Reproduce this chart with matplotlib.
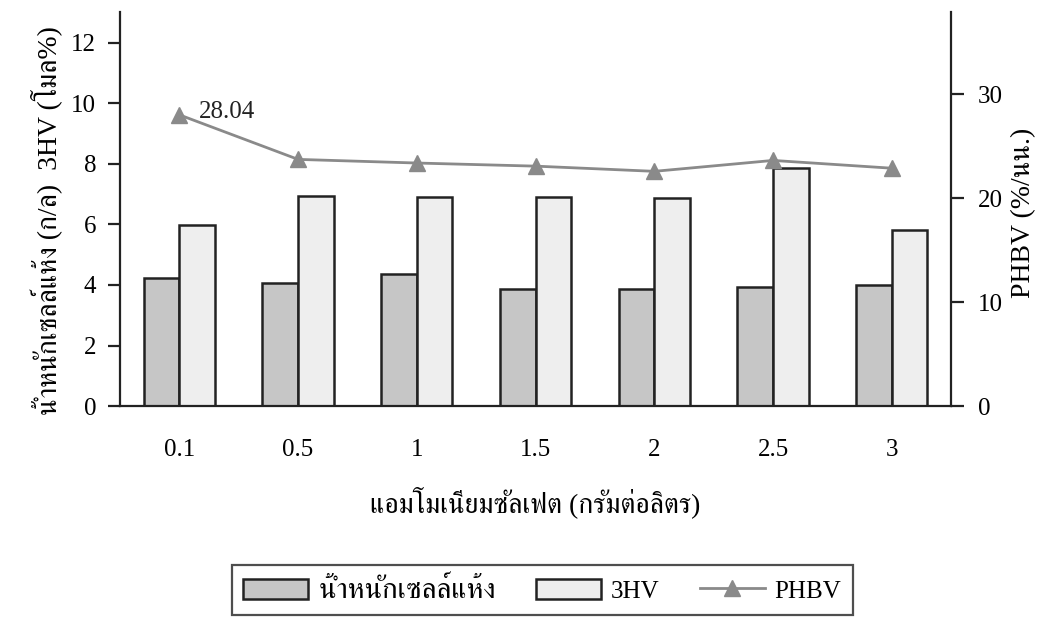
import matplotlib
matplotlib.use("Agg")
import numpy as np
from matplotlib import pyplot as plt

plt.rcParams["font.family"] = ["Liberation Serif", "FreeSerif"]

# ammonium sulfate concentration (g/L)
categories = ["0.1", "0.5", "1", "1.5", "2", "2.5", "3"]
# dry cell weight (g/L)
dry_cell = [4.23, 4.07, 4.36, 3.87, 3.87, 3.93, 4.0]
# 3HV content (mol%)
hv3 = [5.97, 6.94, 6.91, 6.91, 6.88, 7.87, 5.82]
# PHBV content (% w/w)
phbv = [28.04, 23.75, 23.4, 23.1, 22.6, 23.65, 22.9]

label_dry = "น้ำหนักเซลล์แห้ง"
label_hv = "3HV"
label_phbv = "PHBV"
xlabel = "แอมโมเนียมซัลเฟต (กรัมต่อลิตร)"
ylabel_left = "น้ำหนักเซลล์แห้ง (ก/ล)  3HV (โมล%)"
ylabel_right = "PHBV (%/นน.)"

fig = plt.figure(figsize=(10.43, 6.2), dpi=100)
ax = fig.add_axes([0.115, 0.345, 0.797, 0.635])
ax2 = ax.twinx()

x = np.arange(len(categories))
w = 0.3
edge = "#222222"
b1 = ax.bar(x - w / 2, dry_cell, w, color="#c6c6c6", edgecolor=edge, linewidth=1.8,
            label=label_dry, zorder=2)
b2 = ax.bar(x + w / 2, hv3, w, color="#eeeeee", edgecolor=edge, linewidth=1.8,
            label=label_hv, zorder=2)

ln, = ax2.plot(x, phbv, color="#8a8a8a", linewidth=2, marker="^", markersize=11,
               markerfacecolor="#8a8a8a", markeredgecolor="#8a8a8a", label=label_phbv)
ax2.annotate(f"{phbv[0]:.2f}", (x[0], phbv[0]), xytext=(14, 2), textcoords="offset points",
             ha="left", va="center", fontsize=18, color="#222222")

ax.set_xlim(-0.5, 6.5)
ax.set_ylim(0, 13)
ax2.set_ylim(0, 37.9)
ax.set_yticks(range(0, 13, 2))
ax2.set_yticks(range(0, 31, 10))
ax.set_xticks(x)
ax.set_xticklabels(categories)

for a in (ax, ax2):
    a.spines["top"].set_visible(False)
    for s in a.spines.values():
        s.set_linewidth(1.6)
        s.set_color(edge)
ax.spines["right"].set_visible(False)
ax2.spines["left"].set_visible(False)
ax2.spines["bottom"].set_visible(False)

ax.tick_params(axis="y", direction="out", length=9, width=1.6, pad=8, labelsize=18,
               color=edge)
ax.tick_params(axis="x", length=0, pad=24, labelsize=18)
ax2.tick_params(axis="y", direction="out", length=9, width=1.6, pad=10, labelsize=18,
                color=edge)

ax.set_xlabel(xlabel, fontsize=20, labelpad=18)
ax.set_ylabel(ylabel_left, fontsize=20)
ax.yaxis.set_label_coords(-0.07, 0.47)
ax2.set_ylabel(ylabel_right, fontsize=20, rotation=90)
ax2.yaxis.set_label_coords(1.072, 0.49)

leg = fig.legend([b1, b2, ln], [label_dry, label_hv, label_phbv], ncol=3,
                 loc="upper center", bbox_to_anchor=(0.52, 0.088), fontsize=18,
                 frameon=True, fancybox=False, edgecolor=edge, handlelength=2.6,
                 handleheight=0.9, handletextpad=0.4, columnspacing=1.6,
                 borderpad=0.45, borderaxespad=0)
leg.get_frame().set_linewidth(1.6)
leg.get_texts()[0].set_fontsize(21)

fig.savefig("out.png")
